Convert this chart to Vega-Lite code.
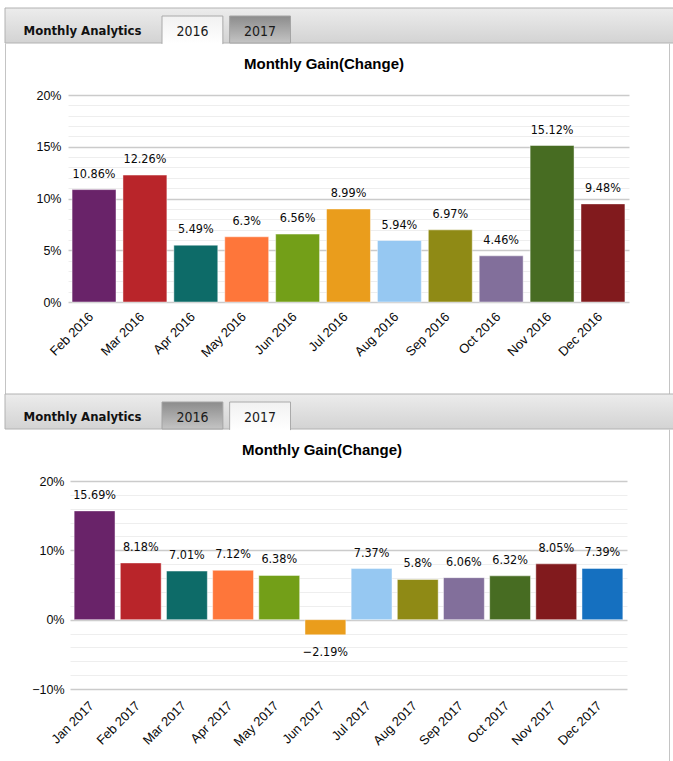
{
  "$schema": "https://vega.github.io/schema/vega-lite/v6.json",
  "padding": {"left": 4, "top": 7, "right": 0, "bottom": 0},
  "bounds": "flush",
  "spacing": 0,
  "resolve": {"scale": {"color": "independent"}},
  "config": {"view": {"stroke": null}, "background": "#ffffff"},
  "vconcat": [
    {
      "width": 668,
      "height": 35,
      "view": {"stroke": null},
      "data": {"values": [{"tab": "2016"}, {"tab": "2017"}]},
      "layer": [
        {
          "data": {"values": [{}]},
          "mark": {"type": "rect", "stroke": "#b2b2b2", "strokeWidth": 1, "strokeDash": [668, 35, 703],
            "fill": {"gradient": "linear", "x1": 0, "y1": 0, "x2": 0, "y2": 1, "stops": [{"offset": 0, "color": "#ececec"}, {"offset": 1, "color": "#d3d3d3"}]}},
          "encoding": {}
        },
        {
          "transform": [{"filter": "datum.tab === '2017'"}],
          "mark": {"type": "rect", "stroke": "#a4a4a4", "strokeWidth": 1,
            "fill": {"gradient": "linear", "x1": 0, "y1": 0, "x2": 0, "y2": 1, "stops": [{"offset": 0, "color": "#8c8c8c"}, {"offset": 1, "color": "#c4c4c4"}]}},
          "encoding": {
            "x": {"field": "tab", "type": "nominal", "scale": {"domain": ["2016", "2017"], "range": [157, 285.5], "paddingInner": 0.1, "paddingOuter": 0},
              "axis": {"orient": "bottom", "title": "Monthly Analytics", "titleX": 77, "titleY": -13, "titleAlign": "center", "titleBaseline": "middle",
                "titleFont": "DejaVu Sans Condensed", "titleFontSize": 13, "titleFontWeight": "bold", "titleColor": "#111111",
                "labels": false, "ticks": false, "domain": false, "grid": false}},
            "y": {"datum": 1, "type": "quantitative", "scale": {"domain": [0, 1], "range": [35, 8]}, "axis": null},
            "y2": {"datum": 0}
          }
        },
        {
          "transform": [{"filter": "datum.tab === '2016'"}],
          "mark": {"type": "rect", "stroke": "#aaaaaa", "strokeWidth": 1, "strokeDash": [89, 61, 28],
            "fill": {"gradient": "linear", "x1": 0, "y1": 0, "x2": 0, "y2": 1, "stops": [{"offset": 0, "color": "#f1f1f1"}, {"offset": 1, "color": "#ffffff"}]}},
          "encoding": {
            "x": {"field": "tab", "type": "nominal"},
            "y": {"datum": 1, "type": "quantitative"},
            "y2": {"datum": -0.04}
          }
        },
        {
          "mark": {"type": "text", "font": "DejaVu Sans Condensed", "fontSize": 14, "color": "#1a1a1a", "baseline": "middle", "dy": 6},
          "encoding": {
            "x": {"field": "tab", "type": "nominal"},
            "text": {"field": "tab", "type": "nominal"}
          }
        }
      ]
    },
    {
      "width": 664,
      "height": 351,
      "view": {"stroke": "#c4c4c4", "strokeDash": [0, 664, 1366]},
      "title": {"text": "Monthly Gain(Change)", "frame": "group", "anchor": "middle", "offset": 0, "dy": 36, "dx": -13, "baseline": "middle",
        "font": "Liberation Sans", "fontSize": 15, "fontWeight": "bold", "color": "#000000"},
      "data": {"values": [
        {"month": "Feb 2016", "gain": 0.1086},
        {"month": "Mar 2016", "gain": 0.1226},
        {"month": "Apr 2016", "gain": 0.0549},
        {"month": "May 2016", "gain": 0.063},
        {"month": "Jun 2016", "gain": 0.0656},
        {"month": "Jul 2016", "gain": 0.0899},
        {"month": "Aug 2016", "gain": 0.0594},
        {"month": "Sep 2016", "gain": 0.0697},
        {"month": "Oct 2016", "gain": 0.0446},
        {"month": "Nov 2016", "gain": 0.1512},
        {"month": "Dec 2016", "gain": 0.0948}
      ]},
      "encoding": {
        "x": {"field": "month", "type": "nominal", "sort": null,
          "scale": {"range": [63, 624], "paddingInner": 0.137, "paddingOuter": 0.08},
          "axis": {"orient": "bottom", "offset": -92, "labelAngle": -45, "labelPadding": 8, "labelOffset": -7, "ticks": false, "domain": false, "grid": false, "title": null,
            "labelOverlap": false, "labelFont": "Liberation Sans", "labelFontSize": 13, "labelColor": "#0a0a0a"}},
        "y": {"field": "gain", "type": "quantitative",
          "scale": {"domain": [0, 0.2], "range": [259, 52], "nice": false, "zero": false},
          "axis": {"values": [0, 0.01, 0.02, 0.03, 0.04, 0.05, 0.06, 0.07, 0.08, 0.09, 0.1, 0.11, 0.12, 0.13, 0.14, 0.15, 0.16, 0.17, 0.18, 0.19, 0.2],
            "format": ".0%", "labelExpr": "round(datum.value * 100) % 5 === 0 ? datum.label : ''",
            "gridColor": {"condition": {"test": "round(datum.value * 100) % 5 === 0", "value": "#cbcbcb"}, "value": "#eeeeee"},
            "gridWidth": {"condition": {"test": "round(datum.value * 100) % 5 === 0", "value": 1.5}, "value": 1},
            "offset": -63, "labelPadding": 7, "ticks": false, "domain": false, "title": null, "labelOverlap": false,
            "labelFont": "Liberation Sans", "labelFontSize": 12.5, "labelColor": "#0a0a0a"}}
      },
      "layer": [
        {
          "mark": {"type": "bar", "stroke": "#ffffff", "strokeOpacity": 0.45, "strokeWidth": 1},
          "encoding": {
            "color": {"field": "month", "type": "nominal", "legend": null,
              "scale": {"domain": ["Feb 2016", "Mar 2016", "Apr 2016", "May 2016", "Jun 2016", "Jul 2016", "Aug 2016", "Sep 2016", "Oct 2016", "Nov 2016", "Dec 2016"],
                "range": ["#692369", "#B9252A", "#0D6B68", "#FE763A", "#739F18", "#EA9D1C", "#96C8F2", "#8F8A15", "#826F9B", "#476C22", "#811A1D"]}}
          }
        },
        {
          "transform": [{"filter": "datum.gain >= 0"}],
          "mark": {"type": "text", "baseline": "middle", "dy": -16, "font": "DejaVu Sans Condensed", "fontSize": 12.5, "color": "#0a0a0a"},
          "encoding": {"text": {"field": "gain", "type": "quantitative", "format": ".2~%"}}
        },
        {
          "transform": [{"filter": "datum.gain < 0"}],
          "mark": {"type": "text", "baseline": "middle", "dy": 17, "font": "DejaVu Sans Condensed", "fontSize": 12.5, "color": "#0a0a0a"},
          "encoding": {"text": {"field": "gain", "type": "quantitative", "format": ".2~%"}}
        }
      ]
    },
    {
      "width": 668,
      "height": 35,
      "view": {"stroke": null},
      "data": {"values": [{"tab": "2016"}, {"tab": "2017"}]},
      "layer": [
        {
          "data": {"values": [{}]},
          "mark": {"type": "rect", "stroke": "#b2b2b2", "strokeWidth": 1, "strokeDash": [668, 35, 703],
            "fill": {"gradient": "linear", "x1": 0, "y1": 0, "x2": 0, "y2": 1, "stops": [{"offset": 0, "color": "#ececec"}, {"offset": 1, "color": "#d3d3d3"}]}},
          "encoding": {}
        },
        {
          "transform": [{"filter": "datum.tab === '2016'"}],
          "mark": {"type": "rect", "stroke": "#a4a4a4", "strokeWidth": 1,
            "fill": {"gradient": "linear", "x1": 0, "y1": 0, "x2": 0, "y2": 1, "stops": [{"offset": 0, "color": "#8c8c8c"}, {"offset": 1, "color": "#c4c4c4"}]}},
          "encoding": {
            "x": {"field": "tab", "type": "nominal", "scale": {"domain": ["2016", "2017"], "range": [157, 285.5], "paddingInner": 0.1, "paddingOuter": 0},
              "axis": {"orient": "bottom", "title": "Monthly Analytics", "titleX": 77, "titleY": -13, "titleAlign": "center", "titleBaseline": "middle",
                "titleFont": "DejaVu Sans Condensed", "titleFontSize": 13, "titleFontWeight": "bold", "titleColor": "#111111",
                "labels": false, "ticks": false, "domain": false, "grid": false}},
            "y": {"datum": 1, "type": "quantitative", "scale": {"domain": [0, 1], "range": [35, 8]}, "axis": null},
            "y2": {"datum": 0}
          }
        },
        {
          "transform": [{"filter": "datum.tab === '2017'"}],
          "mark": {"type": "rect", "stroke": "#aaaaaa", "strokeWidth": 1, "strokeDash": [89, 61, 28],
            "fill": {"gradient": "linear", "x1": 0, "y1": 0, "x2": 0, "y2": 1, "stops": [{"offset": 0, "color": "#f1f1f1"}, {"offset": 1, "color": "#ffffff"}]}},
          "encoding": {
            "x": {"field": "tab", "type": "nominal"},
            "y": {"datum": 1, "type": "quantitative"},
            "y2": {"datum": -0.04}
          }
        },
        {
          "mark": {"type": "text", "font": "DejaVu Sans Condensed", "fontSize": 14, "color": "#1a1a1a", "baseline": "middle", "dy": 6},
          "encoding": {
            "x": {"field": "tab", "type": "nominal"},
            "text": {"field": "tab", "type": "nominal"}
          }
        }
      ]
    },
    {
      "width": 664,
      "height": 332,
      "view": {"stroke": "#c4c4c4", "strokeDash": [0, 664, 332, 2000]},
      "title": {"text": "Monthly Gain(Change)", "frame": "group", "anchor": "middle", "offset": 0, "dy": 36, "dx": -15, "baseline": "middle",
        "font": "Liberation Sans", "fontSize": 15, "fontWeight": "bold", "color": "#000000"},
      "data": {"values": [
        {"month": "Jan 2017", "gain": 0.1569},
        {"month": "Feb 2017", "gain": 0.0818},
        {"month": "Mar 2017", "gain": 0.0701},
        {"month": "Apr 2017", "gain": 0.0712},
        {"month": "May 2017", "gain": 0.0638},
        {"month": "Jun 2017", "gain": -0.0219},
        {"month": "Jul 2017", "gain": 0.0737},
        {"month": "Aug 2017", "gain": 0.058},
        {"month": "Sep 2017", "gain": 0.0606},
        {"month": "Oct 2017", "gain": 0.0632},
        {"month": "Nov 2017", "gain": 0.0805},
        {"month": "Dec 2017", "gain": 0.0739}
      ]},
      "encoding": {
        "x": {"field": "month", "type": "nominal", "sort": null,
          "scale": {"range": [65, 622], "paddingInner": 0.115, "paddingOuter": 0.09},
          "axis": {"orient": "bottom", "offset": -72, "labelAngle": -45, "labelPadding": 10, "labelOffset": -7, "ticks": false, "domain": false, "grid": false, "title": null,
            "labelOverlap": false, "labelFont": "Liberation Sans", "labelFontSize": 13, "labelColor": "#0a0a0a"}},
        "y": {"field": "gain", "type": "quantitative",
          "scale": {"domain": [-0.1, 0.2], "range": [260, 52], "nice": false, "zero": false},
          "axis": {"values": [-0.1, -0.08, -0.06, -0.04, -0.02, 0, 0.02, 0.04, 0.06, 0.08, 0.1, 0.12, 0.14, 0.16, 0.18, 0.2],
            "format": ".0%", "labelExpr": "round(datum.value * 100) % 10 === 0 ? datum.label : ''",
            "gridColor": {"condition": {"test": "round(datum.value * 100) % 10 === 0", "value": "#cbcbcb"}, "value": "#eeeeee"},
            "gridWidth": {"condition": {"test": "round(datum.value * 100) % 10 === 0", "value": 1.5}, "value": 1},
            "offset": -65, "labelPadding": 6, "ticks": false, "domain": false, "title": null, "labelOverlap": false,
            "labelFont": "Liberation Sans", "labelFontSize": 12.5, "labelColor": "#0a0a0a"}}
      },
      "layer": [
        {
          "mark": {"type": "bar", "stroke": "#ffffff", "strokeOpacity": 0.45, "strokeWidth": 1},
          "encoding": {
            "color": {"field": "month", "type": "nominal", "legend": null,
              "scale": {"domain": ["Jan 2017", "Feb 2017", "Mar 2017", "Apr 2017", "May 2017", "Jun 2017", "Jul 2017", "Aug 2017", "Sep 2017", "Oct 2017", "Nov 2017", "Dec 2017"],
                "range": ["#692369", "#B9252A", "#0D6B68", "#FE763A", "#739F18", "#EA9D1C", "#96C8F2", "#8F8A15", "#826F9B", "#476C22", "#811A1D", "#1570C0"]}}
          }
        },
        {
          "transform": [{"filter": "datum.gain >= 0"}],
          "mark": {"type": "text", "baseline": "middle", "dy": -16, "font": "DejaVu Sans Condensed", "fontSize": 12.5, "color": "#0a0a0a"},
          "encoding": {"text": {"field": "gain", "type": "quantitative", "format": ".2~%"}}
        },
        {
          "transform": [{"filter": "datum.gain < 0"}],
          "mark": {"type": "text", "baseline": "middle", "dy": 17, "font": "DejaVu Sans Condensed", "fontSize": 12.5, "color": "#0a0a0a"},
          "encoding": {"text": {"field": "gain", "type": "quantitative", "format": ".2~%"}}
        }
      ]
    }
  ]
}
